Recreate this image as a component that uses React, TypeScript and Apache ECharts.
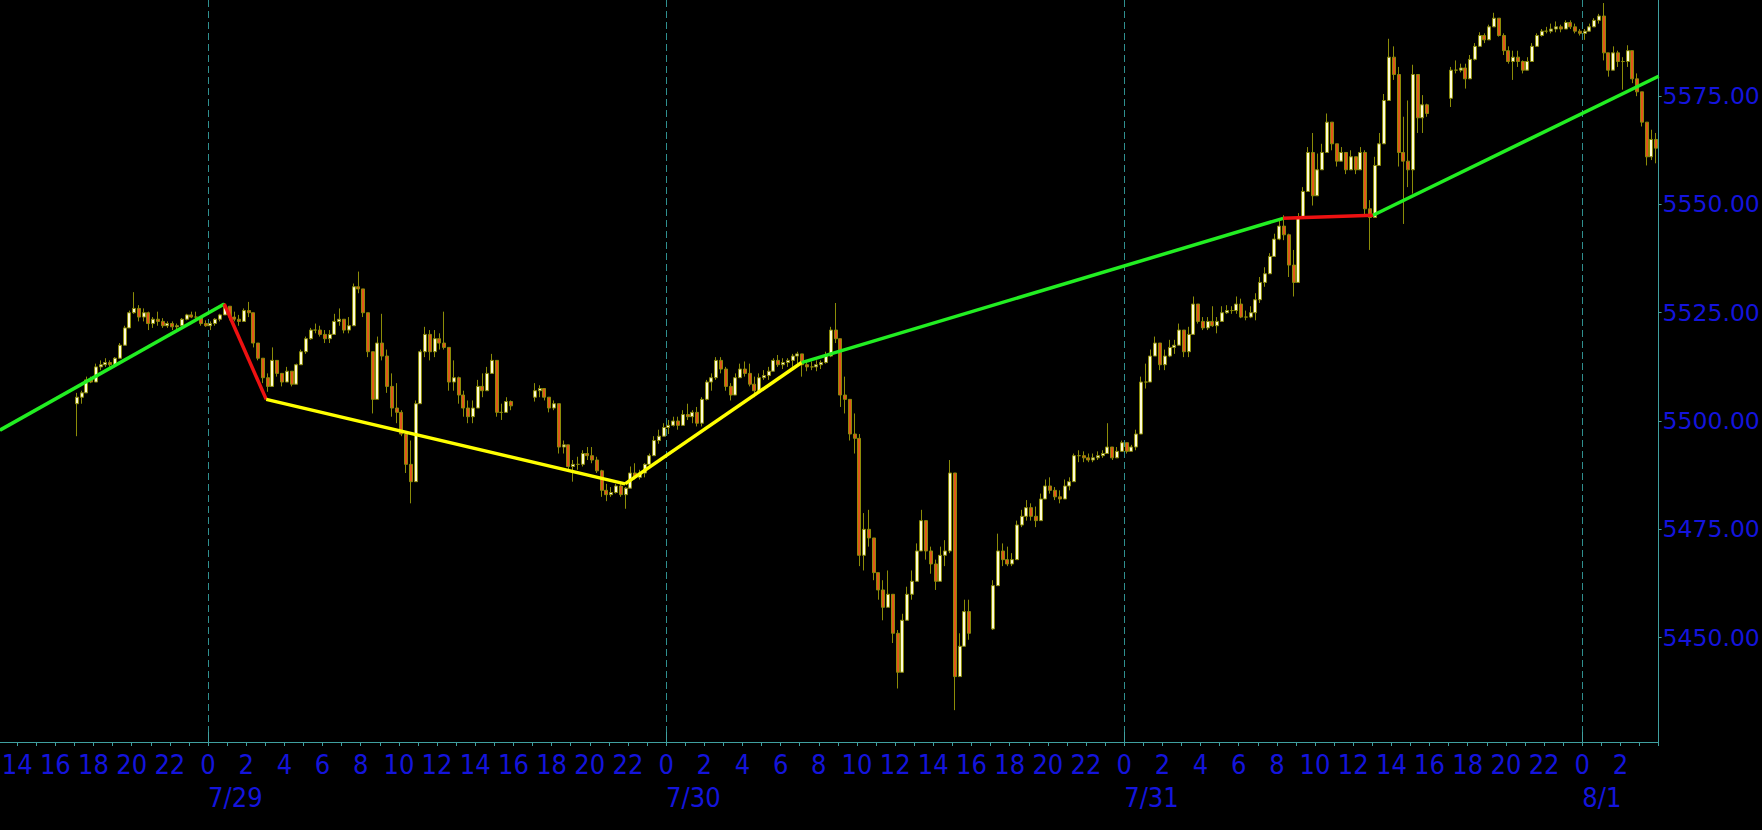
import React, { useEffect, useRef } from "react";
import * as echarts from "echarts";

// ---- data: 15-minute ES candles, hours counted from 7/28 00:00 ----
const sessionStartHours = [17, 41, 65, 89];
const sessionFirstOpen = [5504, 5505.5, 5452, 5574.5];

const s1Close = [5505.5, 5506.5, 5509.5, 5509, 5512.5, 5513, 5513.5, 5513, 5514.5, 5517.5,
  5521.5, 5525, 5526, 5524, 5525, 5522.5, 5523.5, 5523, 5522, 5522.5,
  5521.75, 5522, 5523.5, 5524.5, 5524, 5524, 5522.5, 5522, 5522.5, 5523.5,
  5524.5, 5526.5, 5524, 5523.5, 5523, 5525.5, 5525, 5518, 5514.5, 5510,
  5508, 5514, 5511, 5509, 5511.5, 5508.5, 5513, 5516, 5519, 5521,
  5521, 5520, 5519, 5520, 5523, 5523.5, 5521, 5522, 5531, 5530.5,
  5525, 5516, 5505, 5518, 5515, 5508, 5503, 5502, 5497, 5490,
  5486, 5504, 5516, 5520, 5516, 5519, 5518, 5517, 5509, 5510,
  5506, 5503, 5501, 5503, 5508, 5507, 5511, 5514, 5502, 5502,
  5504.5, 5503.5];
const s1High = [5506.5, 5507, 5510.25, 5510.25, 5513.25, 5514, 5514.5, 5514, 5514.75, 5518,
  5522, 5525.5, 5529.75, 5526.75, 5526, 5525.25, 5524, 5525.25, 5523.75, 5523,
  5523, 5522.5, 5523.75, 5524.75, 5525.25, 5525.25, 5524, 5523.25, 5523, 5523.75,
  5524.75, 5527.25, 5526.5, 5525.25, 5524.5, 5526, 5527.5, 5524, 5518, 5514,
  5511, 5517, 5514, 5511, 5512.5, 5511, 5513.25, 5516.5, 5519.5, 5521.5,
  5522.5, 5522, 5521, 5521, 5524.75, 5526, 5523.25, 5524, 5531.75, 5534.5,
  5529.5, 5524, 5514.75, 5519.5, 5524.75, 5516.5, 5511, 5508.75, 5502.5, 5496.5,
  5495.5, 5504.75, 5516.5, 5521.75, 5521, 5521, 5520.25, 5525.25, 5516.5, 5514,
  5510.25, 5507, 5504.75, 5504.75, 5509.5, 5511, 5512.5, 5515.5, 5513.25, 5504,
  5505.5, 5504.75];
const s1Low = [5496.5, 5504, 5507, 5508.75, 5510.25, 5511.75, 5512.5, 5512.5, 5513, 5514.75,
  5519.5, 5521.75, 5524.75, 5523, 5523, 5521, 5521.5, 5522, 5521.5, 5521.5,
  5521, 5521, 5521.75, 5523.25, 5523.75, 5523.25, 5522, 5521.75, 5521, 5522,
  5523, 5524.75, 5523.25, 5523, 5522, 5523, 5524, 5517, 5514, 5508.75,
  5506.75, 5508.75, 5510.25, 5508, 5509.5, 5508, 5509.5, 5513.25, 5515.5, 5518.75,
  5520.25, 5519.5, 5518, 5518, 5521, 5522, 5520.25, 5520.25, 5524.75, 5529.5,
  5524, 5514.75, 5501.75, 5507, 5514, 5506.5, 5501, 5499.5, 5496.5, 5488,
  5481, 5491.75, 5504.75, 5514.75, 5514, 5514.75, 5516.5, 5516.5, 5507, 5507,
  5504, 5501, 5499.5, 5499.5, 5504, 5505.5, 5508.75, 5511, 5501, 5500.25,
  5502.5, 5502.5];

const s2Close = [5507, 5507.5, 5505.5, 5503, 5504, 5494, 5494.5, 5489.5, 5490, 5490,
  5492.5, 5492, 5491, 5488.5, 5484, 5483, 5483.5, 5485, 5483, 5484.5,
  5488, 5487, 5488, 5490, 5492, 5495.5, 5496.5, 5498.5, 5499, 5500,
  5499, 5501.5, 5501, 5502, 5499.5, 5505, 5509, 5510, 5514, 5512,
  5508, 5506, 5510, 5512, 5511, 5508.5, 5507, 5510, 5510.5, 5511.5,
  5514, 5513, 5513.5, 5514, 5515, 5515.5, 5513, 5512.5, 5512.5, 5513,
  5513.5, 5515, 5521, 5519, 5506, 5505, 5497, 5496, 5469, 5475,
  5473, 5465, 5461, 5457, 5460, 5451, 5442, 5454, 5460, 5463,
  5470, 5477, 5470, 5467, 5463, 5469, 5470, 5488, 5441, 5448,
  5456, 5451];
const s2High = [5508.75, 5508.25, 5507.5, 5505.25, 5504.75, 5502.5, 5495.5, 5492.5, 5491, 5491.75,
  5493.25, 5494, 5494, 5491.75, 5488.75, 5485.5, 5484.75, 5485.5, 5485.5, 5484.75,
  5489.5, 5490.25, 5488.75, 5490.25, 5492.5, 5496.5, 5498, 5499.5, 5500.25, 5501,
  5501, 5502.5, 5504, 5502.5, 5503.25, 5505.5, 5509.5, 5511, 5514.75, 5514.75,
  5512.5, 5508.75, 5511, 5513.25, 5513.75, 5513.25, 5510.25, 5511, 5511.75, 5512.5,
  5514.5, 5515.25, 5514.5, 5514.5, 5515.5, 5516, 5515.25, 5514, 5513.75, 5514,
  5514, 5516, 5521.75, 5527.25, 5518.75, 5510.25, 5503.25, 5501.75, 5497, 5478.75,
  5479.5, 5472.5, 5464.75, 5463.25, 5465.5, 5459.5, 5451.75, 5455.5, 5461.75, 5465.5,
  5471.75, 5479.5, 5475.5, 5471, 5468, 5471, 5472.5, 5491, 5486.5, 5451,
  5458.75, 5458.75];
const s2Low = [5504.5, 5505.5, 5504.75, 5502, 5502.5, 5492.5, 5492.5, 5488.75, 5486, 5488.75,
  5489.5, 5491, 5490.25, 5488, 5482.5, 5481.5, 5482.5, 5483.25, 5482.5, 5479.75,
  5484.75, 5486.5, 5486.5, 5487, 5489.5, 5492.5, 5494.75, 5497, 5497, 5498.75,
  5498, 5499.5, 5500.25, 5499.5, 5498.75, 5498.75, 5504.75, 5507, 5509.5, 5511,
  5507, 5504.75, 5506.5, 5510.25, 5510.25, 5508, 5505.5, 5507, 5509.5, 5509.5,
  5511.75, 5512.5, 5512, 5512.5, 5512.5, 5513.25, 5510.25, 5511.5, 5511.75, 5511.5,
  5512, 5513.25, 5514.75, 5518, 5503.25, 5501.75, 5495.5, 5492.5, 5466.5, 5465.5,
  5471, 5463.25, 5458.75, 5454, 5457, 5448.75, 5438.25, 5446.5, 5454.75, 5458.75,
  5464.75, 5471, 5468, 5464.75, 5461, 5464.75, 5466.5, 5469.5, 5433.25, 5441.75,
  5448.75, 5449.5];

const s3Close = [5462, 5470, 5468, 5467, 5468, 5476, 5478, 5480, 5478, 5477,
  5482, 5485, 5484, 5482.5, 5482, 5485, 5486, 5492, 5492, 5491.5,
  5491, 5491.5, 5492, 5492.5, 5494, 5491.5, 5493, 5495, 5493, 5494,
  5497, 5509, 5509, 5515, 5518, 5513, 5515, 5517, 5517.5, 5521,
  5516, 5520, 5527, 5523, 5521.5, 5523, 5522, 5523, 5525, 5525.5,
  5525.5, 5527, 5524, 5524, 5525, 5528, 5532, 5534, 5538, 5542,
  5545, 5543, 5536, 5532, 5547, 5553, 5562, 5552, 5558, 5562,
  5569, 5564, 5560, 5562, 5558, 5561, 5558, 5562, 5549, 5547,
  5559, 5564, 5574, 5584, 5580, 5562, 5560, 5558, 5580, 5570,
  5573, 5571];
const s3High = [5463.25, 5474, 5471.75, 5471, 5469.5, 5477, 5479.5, 5481.75, 5481, 5480.25,
  5483.25, 5486.5, 5487, 5484.75, 5484, 5486.5, 5487, 5492.5, 5493.25, 5493,
  5492.5, 5492.5, 5493, 5493.25, 5499.5, 5493.25, 5494, 5495.5, 5494.5, 5494.5,
  5498, 5510.25, 5513.25, 5516.5, 5519.5, 5517, 5516.5, 5518.75, 5518.75, 5522.5,
  5521, 5521.75, 5528.75, 5526.5, 5524, 5524, 5526.5, 5524, 5526.5, 5526.75,
  5526.5, 5528.75, 5528.25, 5525.5, 5526.5, 5529.5, 5533.25, 5535.5, 5538.75, 5543.25,
  5546.5, 5547.5, 5543.25, 5539.5, 5548, 5554, 5563.25, 5566.5, 5561.75, 5564,
  5571, 5567.25, 5564, 5563.25, 5561, 5562.5, 5560.25, 5563.25, 5562.5, 5551,
  5561, 5566.5, 5575.5, 5588.25, 5586.5, 5581.75, 5570.25, 5574, 5582.25, 5578,
  5575.25, 5573.25];
const s3Low = [5451.75, 5463.25, 5466.5, 5466.5, 5466.5, 5468, 5475.5, 5477, 5477, 5475.5,
  5478.75, 5483.25, 5483.25, 5481.75, 5481, 5482.5, 5484, 5488, 5490.5, 5490.5,
  5490.5, 5490.5, 5491, 5491.5, 5492.5, 5491, 5491.5, 5493.25, 5492.5, 5493,
  5493.25, 5498, 5507.5, 5512.5, 5515.5, 5511.75, 5511.75, 5514.75, 5515.5, 5519.5,
  5514.75, 5514.75, 5522.5, 5522.5, 5521, 5521, 5521.75, 5520.25, 5523.25, 5524.75,
  5524.75, 5524.75, 5523.75, 5523.25, 5523.75, 5523.25, 5527.25, 5531, 5534, 5538.75,
  5541.75, 5541.75, 5533.25, 5528.75, 5535.5, 5548, 5554, 5549.75, 5555.5, 5559.5,
  5565.5, 5562.5, 5558.75, 5560.25, 5557, 5558.75, 5557, 5560.25, 5547.25, 5539.5,
  5551, 5560.25, 5566.5, 5574, 5578.75, 5558.75, 5545.5, 5554, 5552.5, 5566.5,
  5566.5, 5570.25];

const s4Close = [5581, 5581, 5581.5, 5579, 5583.5, 5586.5, 5589, 5588, 5591, 5593,
  5589, 5585.5, 5583, 5584, 5583, 5581, 5583, 5586.5, 5589, 5590,
  5590, 5590.5, 5591, 5590.5, 5592, 5591, 5590, 5589.5, 5590, 5591,
  5592.5, 5593.5, 5585, 5581, 5585, 5583, 5583, 5585.5, 5579, 5576,
  5569, 5561, 5565, 5563];
const s4High = [5581.75, 5583.25, 5582.5, 5582.5, 5584.5, 5587.25, 5589.75, 5589.5, 5591.5, 5594.25,
  5592.5, 5589.5, 5586.5, 5585.5, 5585.5, 5583.25, 5584, 5587.25, 5589.5, 5590.5,
  5591, 5591.75, 5592.25, 5591.5, 5592.5, 5592.5, 5591.75, 5590.5, 5590.5, 5591.75,
  5593, 5594, 5596.5, 5584.75, 5586.5, 5585.5, 5584, 5586.75, 5584, 5580.25,
  5575.5, 5568.75, 5567.25, 5566.5];
const s4Low = [5572.5, 5580.25, 5580.5, 5576.75, 5581.75, 5583.25, 5587.5, 5587.25, 5588.75, 5591.5,
  5588.75, 5584.5, 5582.5, 5578.75, 5581.75, 5580.25, 5581, 5583.25, 5587.25, 5588.75,
  5589.5, 5589.5, 5589.75, 5589.75, 5590.5, 5590.5, 5589.5, 5589, 5588, 5590.25,
  5591, 5591.75, 5583.25, 5579.5, 5581.75, 5581.75, 5576.5, 5581.75, 5578, 5575,
  5568, 5559, 5560.25, 5559.5];

// zigzag pivots (hour, price)
const pivotHours = [13.1, 24.85, 27.05, 45.85, 55.1, 80.33, 85.04, 100];
const pivotPrices = [5497.9, 5527.0, 5505.0, 5485.5, 5513.5, 5546.8, 5547.5, 5579.6];

// axes
const xMinHour = 13.1;
const xMaxHour = 100;
const yMinPrice = 5425.9;
const yMaxPrice = 5597.2;
const hourLabelValues = [14, 16, 18, 20, 22, 24, 26, 28, 30, 32, 34, 36, 38, 40, 42, 44, 46, 48,
  50, 52, 54, 56, 58, 60, 62, 64, 66, 68, 70, 72, 74, 76, 78, 80, 82, 84, 86, 88, 90, 92, 94, 96, 98];
const dayBoundaryHours = [24, 48, 72, 96];
const dayLabels = ["7/29", "7/30", "7/31", "8/1"];
const priceTicks = [5450, 5475, 5500, 5525, 5550, 5575];

const SESSIONS = [
  { close: s1Close, high: s1High, low: s1Low },
  { close: s2Close, high: s2High, low: s2Low },
  { close: s3Close, high: s3High, low: s3Low },
  { close: s4Close, high: s4High, low: s4Low },
];

function buildCandles() {
  const out: number[][] = [];
  SESSIONS.forEach((s, si) => {
    let prev = sessionFirstOpen[si];
    s.close.forEach((c, i) => {
      const o = prev;
      const lo = Math.min(s.low[i], o, c);
      const hi = Math.max(s.high[i], o, c);
      out.push([sessionStartHours[si] + i * 0.25 + 0.125, o, c, lo, hi]);
      prev = c;
    });
  });
  return out;
}

const AXIS_COLOR = "#3f9f9f";
const GRID_COLOR = "#2f8f8f";
const LABEL_COLOR = "#1414dc";
const NARROW_FONT = "'Liberation Sans Narrow', 'DejaVu Sans Condensed', 'Arial Narrow', sans-serif";

export default function App() {
  const ref = useRef<HTMLDivElement>(null);
  useEffect(() => {
    document.body.style.margin = "0";
    document.body.style.background = "#000";
    if (!ref.current) return;
    const chart = echarts.init(ref.current, null, { renderer: "svg" });

    const hourTicks: number[] = [];
    for (let h = Math.ceil(xMinHour); h <= xMaxHour; h++) hourTicks.push(h);

    const legColors = ["#22ee22", "#ee1111", "#ffff00", "#ffff00", "#22ee22", "#ee1111", "#22ee22"];
    const legSeries = legColors.map((color, i) => ({
      type: "line",
      xAxisIndex: 0,
      data: [[pivotHours[i], pivotPrices[i]], [pivotHours[i + 1], pivotPrices[i + 1]]],
      symbol: "none",
      lineStyle: { color, width: 3.5 },
      z: 5,
      silent: true,
    }));

    chart.setOption({
      animation: false,
      backgroundColor: "#000",
      grid: { left: 0, right: 103.4, top: 0, bottom: 88, outerBoundsMode: "none", containLabel: false },
      xAxis: [
        {
          type: "value",
          min: xMinHour,
          max: xMaxHour,
          position: "bottom",
          axisLine: { show: true, lineStyle: { color: AXIS_COLOR, width: 1 } },
          axisTick: { show: true, length: 4, customValues: hourTicks, lineStyle: { color: AXIS_COLOR } },
          axisLabel: {
            customValues: hourLabelValues,
            formatter: (v: number) => String(v % 24),
            color: LABEL_COLOR,
            fontFamily: NARROW_FONT,
            fontSize: 27,
            margin: 9,
          },
          splitLine: { show: false },
        },
        {
          type: "value",
          min: xMinHour,
          max: xMaxHour,
          position: "bottom",
          axisLine: { show: false },
          axisTick: { show: true, inside: true, length: 10, customValues: dayBoundaryHours, lineStyle: { color: AXIS_COLOR } },
          axisLabel: {
            customValues: dayBoundaryHours,
            formatter: (v: number) => dayLabels[dayBoundaryHours.indexOf(v)] ?? "",
            align: "left",
            color: LABEL_COLOR,
            fontFamily: NARROW_FONT,
            fontSize: 27,
            margin: 42,
          },
          splitLine: { show: true, lineStyle: { color: GRID_COLOR, type: [7, 4], width: 1 } },
        },
      ],
      yAxis: {
        type: "value",
        position: "right",
        min: yMinPrice,
        max: yMaxPrice,
        axisLine: { show: true, lineStyle: { color: AXIS_COLOR, width: 1 } },
        axisTick: { show: true, length: 3, customValues: priceTicks, lineStyle: { color: AXIS_COLOR } },
        axisLabel: {
          customValues: priceTicks,
          formatter: (v: number) => v.toFixed(2),
          color: LABEL_COLOR,
          fontFamily: "'DejaVu Sans', Verdana, sans-serif",
          fontSize: 23.5,
          margin: 4,
        },
        splitLine: { show: false },
      },
      series: [
        {
          type: "candlestick",
          xAxisIndex: 0,
          data: buildCandles(),
          encode: { x: 0, y: [1, 2, 3, 4] },
          barWidth: 3.5,
          itemStyle: {
            color: "#fffbd8",
            color0: "#e2561c",
            borderColor: "#8c8c08",
            borderColor0: "#8c8c08",
            borderWidth: 1,
          },
          silent: true,
          z: 3,
        },
        ...legSeries,
      ],
    });
    return () => chart.dispose();
  }, []);
  return (
    <div
      ref={ref}
      style={{ position: "fixed", left: 0, top: 0, width: 1762, height: 830, background: "#000" }}
    />
  );
}
